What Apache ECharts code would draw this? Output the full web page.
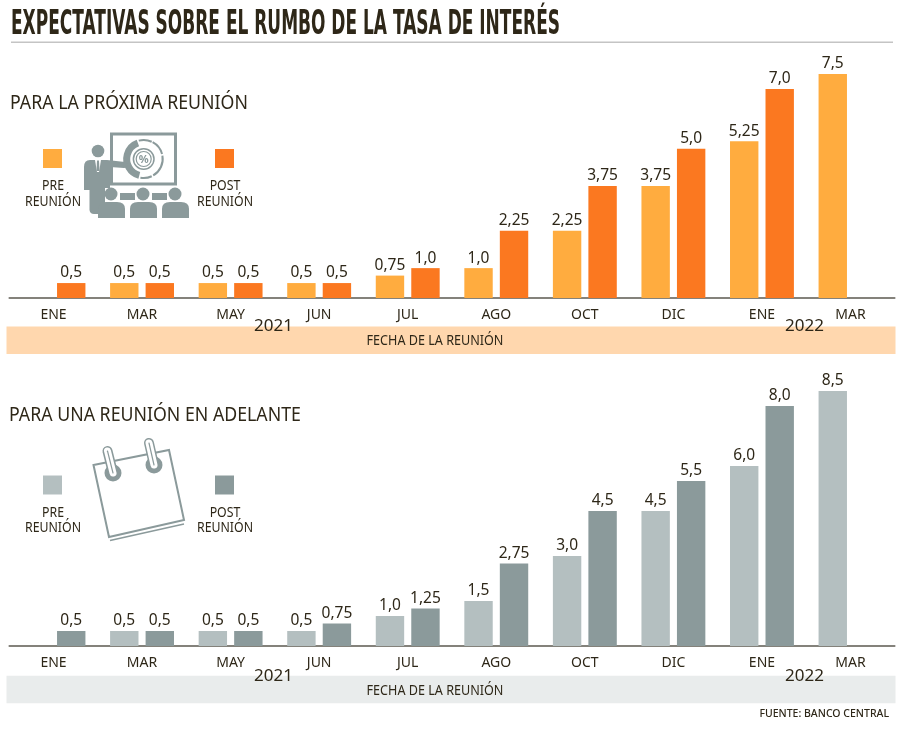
<!DOCTYPE html>
<html><head><meta charset="utf-8">
<style>html,body{margin:0;padding:0;background:#fff}#c{width:900px;height:730px}</style>
<script src="https://cdn.jsdelivr.net/npm/echarts@6/dist/echarts.min.js"></script></head>
<body><div id="c"></div>
<script>
const months = ['ENE','MAR','MAY','JUN','JUL','AGO','OCT','DIC','ENE','MAR'];
const nextPre  = [null,0.5,0.5,0.5,0.75,1,2.25,3.75,5.25,7.5];
const nextPost = [0.5,0.5,0.5,0.5,1,2.25,3.75,5,7,null];
const aheadPre  = [null,0.5,0.5,0.5,1,1.5,3,4.5,6,8.5];
const aheadPost = [0.5,0.5,0.5,0.75,1.25,2.75,4.5,5.5,8,null];
const INK='#2e2718', ORANGE_L='#ffac3f', ORANGE_D='#fb7820', GRAY_L='#b4bfc0', GRAY_D='#8b9a9b';
const FONT='"Noto Sans"';
const fmt = p => { const s=String(p.value); return (s.includes('.')?s:s+'.0').replace('.',','); };
const grids=[{left:9.2,right:5.2,top:59,height:239},{left:9.2,right:5.2,top:376,height:270}];
const maxes=[8,9];
function axisX(i){return {type:'category',gridIndex:i,data:months,axisTick:{show:false},
  axisLine:{lineStyle:{color:'#5c5a50',width:1.5}},
  axisLabel:{color:INK,fontFamily:FONT,fontSize:14,margin:10.5,interval:0}};}
function axisY(i){return {type:'value',gridIndex:i,min:0,max:maxes[i],show:false,splitLine:{show:false}};}
function bar(name,i,data,color){return {name,type:'bar',xAxisIndex:i,yAxisIndex:i,data,barWidth:28.4,barGap:'25%',
  itemStyle:{color},animation:false,
  label:{show:true,position:'top',distance:2,formatter:fmt,color:INK,fontFamily:FONT,fontSize:15.5}};}
const T=(text,x,y,size,o={})=>({type:'text',x,y,z:10,scaleX:o.sx||1,style:{text,fill:o.fill||INK,font:(o.w||'normal')+' '+size+'px '+(o.ff||FONT),
  textAlign:o.a||'left',textVerticalAlign:'middle',textBaseline:'middle',lineHeight:o.lh}});
const R=(x,y,w,h,fill,z)=>({type:'rect',z:z||1,shape:{x,y,width:w,height:h},style:{fill}});
const C=(cx,cy,r,fill)=>({type:'circle',z:5,shape:{cx,cy,r},style:{fill}});
let pathN=0;
const P=(d,style)=>{const n='icon'+(pathN++);echarts.graphic.registerShape(n,echarts.graphic.extendPath(d,{}));return {type:n,z:5,style};};
function legend(yOff,cl,cd){const sx=.88,s=14;return [
  R(43,yOff,19,19,cl,5),R(215,yOff,19,19,cd,5),
  T('PRE',53,yOff+37.5,s,{a:'center',sx}),T('REUNIÓN',53,yOff+53,s,{a:'center',sx}),
  T('POST',225,yOff+37.5,s,{a:'center',sx}),T('REUNIÓN',225,yOff+53,s,{a:'center',sx})];}
const ICON=GRAY_D;
function arc(cx,cy,r,a0,a1){const p=a=>[cx+r*Math.cos(a*Math.PI/180),cy+r*Math.sin(a*Math.PI/180)];const[s,e]=[p(a0),p(a1)];
  return `M${s[0]} ${s[1]}A${r} ${r} 0 ${(a1-a0)>180?1:0} 1 ${e[0]} ${e[1]}`;}
function body(x){return `M${x} 218V209Q${x} 202 ${x+8} 202H${x+19}Q${x+27} 202 ${x+27} 209V218Z`;}
const presenter=[
  {type:'rect',z:4,shape:{x:111.5,y:134,width:64,height:50},style:{fill:'#fff',stroke:ICON,lineWidth:3}},
  P(arc(143.7,159,19,-62,-15),{fill:'none',stroke:ICON,lineWidth:2}),
  P(arc(143.7,159,19,-10,60),{fill:'none',stroke:ICON,lineWidth:2}),
  P(arc(143.7,159,19,65,100),{fill:'none',stroke:ICON,lineWidth:2}),
  P(arc(143.7,159,17,105,250),{fill:'none',stroke:ICON,lineWidth:7}),
  P(arc(143.7,159,19,255,295),{fill:'none',stroke:ICON,lineWidth:2}),
  {type:'circle',z:5,shape:{cx:143.7,cy:159,r:10.3},style:{fill:'#fff',stroke:ICON,lineWidth:1.5}},
  {type:'circle',z:5,shape:{cx:143.7,cy:159,r:7.5},style:{fill:'#fff',stroke:ICON,lineWidth:1.2}},
  T('%',143.7,159.5,11,{a:'center',w:'bold',fill:ICON}),
  C(98,151,6.3,ICON),
  P('M84 167Q84 160 90 160H107L125 162Q128 163 127.5 165.5Q127 168 124 168L110 167V188H105V212Q105 214 101 214H94Q90 214 89.5 210V190H84Z',{fill:ICON}),
  P('M95 160H101L99 172H97Z',{fill:'#fff'}),P('M97 160.5H99L99.5 171H96.5Z',{fill:ICON}),
  P('M120 193H135V200H120Z',{fill:ICON}),P('M152 193H167V200H152Z',{fill:ICON}),
  C(111,194,6.5,ICON),C(143,194,6.5,ICON),C(175,194,6.5,ICON),
  P(body(98),{fill:ICON}),P(body(130),{fill:ICON}),P(body(162),{fill:ICON})
];
function ring(hx,hy,tx,ty){return [
  C(hx,hy,8.5,ICON),
  {type:'line',z:6,shape:{x1:hx,y1:hy,x2:tx,y2:ty},style:{stroke:ICON,lineWidth:10,lineCap:'round'}},
  {type:'line',z:7,shape:{x1:hx,y1:hy,x2:tx,y2:ty},style:{stroke:'#fff',lineWidth:7,lineCap:'round'}},
  {type:'line',z:8,shape:{x1:hx,y1:hy,x2:tx,y2:ty},style:{stroke:ICON,lineWidth:1.2,lineCap:'round'}}];}
const calendar=[
  P('M93.5 465L169 450L184 520L109 537Z',{fill:'#fff',stroke:ICON,lineWidth:2}),
  P('M110 540.5L184 524',{fill:'none',stroke:ICON,lineWidth:1.5}),
  ...ring(113,473,107.5,451),...ring(154,465,149,443)
];
const TITLE='EXPECTATIVAS SOBRE EL RUMBO DE LA TASA DE INTERÉS';
const TFONT='bold 34px "DejaVu Sans"';
const mctx=document.createElement('canvas').getContext('2d');mctx.font=TFONT;
const titleSx=549/mctx.measureText(TITLE).width;
const graphic=[
  T(TITLE,11,25.5,34,{w:'bold',ff:'"DejaVu Sans"',sx:titleSx}),
  R(11,41.5,882,1.5,'#c4c4c4'),
  T('PARA LA PRÓXIMA REUNIÓN',10,103.5,19.5,{sx:.91}),
  T('PARA UNA REUNIÓN EN ADELANTE',9,415,19.5,{sx:.91}),
  R(6.5,326.5,889,27.5,'#ffd7ae',0),R(6.5,675.7,889,27.5,'#e9ecec',0),
  T('FECHA DE LA REUNIÓN',435,341.5,14,{a:'center',sx:.9}),T('FECHA DE LA REUNIÓN',435,691.5,14,{a:'center',sx:.9}),
  T('2021',273.5,326.5,17,{a:'center'}),T('2021',273.5,676.5,17,{a:'center'}),
  T('2022',804.5,326.5,17,{a:'center'}),T('2022',804.5,676.5,17,{a:'center'}),
  T('FUENTE: BANCO CENTRAL',889,714,10.5,{a:'right',w:'500'}),
  ...legend(149,ORANGE_L,ORANGE_D),...legend(475.5,GRAY_L,GRAY_D),
  ...presenter,...calendar
];
const chart=echarts.init(document.getElementById('c'),null,{renderer:'canvas'});
chart.setOption({animation:false,backgroundColor:'#fff',grid:grids,
  xAxis:[axisX(0),axisX(1)],yAxis:[axisY(0),axisY(1)],
  series:[bar('Pre',0,nextPre,ORANGE_L),bar('Post',0,nextPost,ORANGE_D),bar('Pre',1,aheadPre,GRAY_L),bar('Post',1,aheadPost,GRAY_D)],
  graphic:{elements:graphic}});
</script></body></html>
